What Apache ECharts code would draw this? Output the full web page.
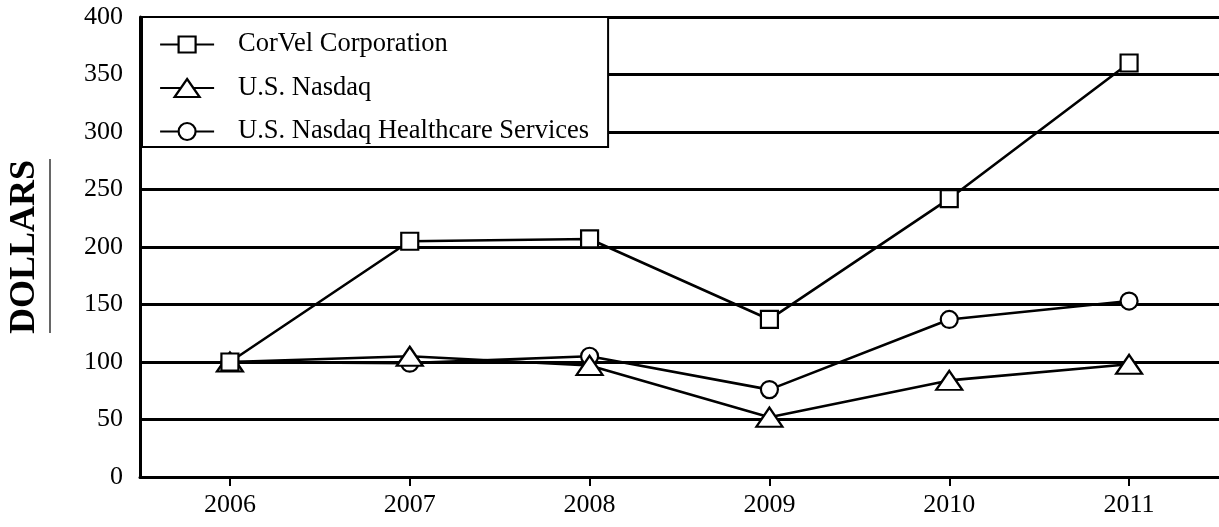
<!DOCTYPE html>
<html>
<head>
<meta charset="utf-8">
<script src="https://cdn.jsdelivr.net/npm/echarts@6/dist/echarts.min.js"></script>
<style>
html,body{margin:0;padding:0;background:#fff;}
#chart{width:1219px;height:527px;}
</style>
</head>
<body>
<div id="chart"></div>
<script>
const years = ['2006', '2007', '2008', '2009', '2010', '2011'];
const corvel = [100, 205, 207, 137, 242, 360];
const nasdaq = [100, 105, 97, 52, 84, 98];
const healthcare = [100, 99, 105, 76, 137, 153];
const seriesNames = ['CorVel Corporation', 'U.S. Nasdaq', 'U.S. Nasdaq Healthcare Services'];
const yTicks = { min: 0, max: 400, interval: 50 };

const FONT = '"Liberation Serif", "Times New Roman", serif';
const chart = echarts.init(document.getElementById('chart'), null, { renderer: 'canvas' });

// legend icons: line + hollow symbol (54 x 19 box)
const legendIcons = [
  'path://M0,9.5L18.5,9.5M35.5,9.5L54,9.5M18.5,1.5L35.5,1.5L35.5,17.5L18.5,17.5ZM0,0M54,19',
  'path://M0,9.5L20.75,9.5M33.25,9.5L54,9.5M27,0.5L39.5,18.5L14.5,18.5ZM0,0M54,19',
  'path://M0,9.5L18.5,9.5M35.5,9.5L54,9.5M18.5,9.5A8.5,8.5,0,1,1,35.5,9.5A8.5,8.5,0,1,1,18.5,9.5ZM0,0M54,19'
];

function lineSeries(name, data, symbol, size, z) {
  return {
    name: name,
    type: 'line',
    data: data,
    symbol: symbol,
    symbolSize: size,
    showSymbol: true,
    z: z,
    itemStyle: { color: '#fff', borderColor: '#000', borderWidth: 2.2 },
    lineStyle: { color: '#000', width: 2.6 },
    emphasis: { disabled: true }
  };
}

chart.setOption({
  animation: false,
  backgroundColor: '#fff',
  grid: { left: 140, right: 0, top: 17, bottom: 50, containLabel: false, outerBoundsMode: 'none' },
  legend: {
    left: 142,
    top: 17,
    orient: 'vertical',
    data: seriesNames.map((n, i) => ({ name: n, icon: legendIcons[i] })),
    backgroundColor: '#fff',
    borderColor: '#000',
    borderWidth: 2,
    borderRadius: 0,
    padding: [14, 19, 2, 17],
    itemWidth: 54,
    itemHeight: 19,
    itemGap: 16.5,
    z: 10,
    itemStyle: { color: '#fff', borderColor: '#000', borderWidth: 2.2 },
    textStyle: { fontFamily: FONT, fontSize: 26.5, color: '#000', lineHeight: 27, padding: [0, 0, 0, 19] }
  },
  xAxis: {
    type: 'category',
    data: years,
    boundaryGap: true,
    axisLine: { lineStyle: { color: '#000', width: 3 } },
    axisTick: { show: true, alignWithLabel: true, length: 9, lineStyle: { color: '#000', width: 2 } },
    axisLabel: { fontFamily: FONT, fontSize: 26, color: '#000', margin: 15 },
    splitLine: { show: false }
  },
  yAxis: {
    type: 'value',
    min: yTicks.min,
    max: yTicks.max,
    interval: yTicks.interval,
    name: 'DOLLARS',
    nameLocation: 'middle',
    nameGap: 97,
    nameRotate: 90,
    nameTextStyle: { fontFamily: FONT, fontSize: 36, fontWeight: 'bold', color: '#000' },
    axisLine: { show: true, lineStyle: { color: '#000', width: 3 } },
    axisTick: { show: false },
    axisLabel: { fontFamily: FONT, fontSize: 26, color: '#000', margin: 17 },
    splitLine: { show: true, lineStyle: { color: '#000', width: 3 } }
  },
  graphic: [
    { type: 'line', shape: { x1: 50, y1: 159, x2: 50, y2: 333 }, style: { stroke: '#000', lineWidth: 1.2 } }
  ],
  series: [
    lineSeries(seriesNames[0], corvel, 'rect', 17, 5),
    lineSeries(seriesNames[1], nasdaq, 'triangle', [26, 19], 4),
    lineSeries(seriesNames[2], healthcare, 'circle', 17, 3)
  ]
});
</script>
</body>
</html>
